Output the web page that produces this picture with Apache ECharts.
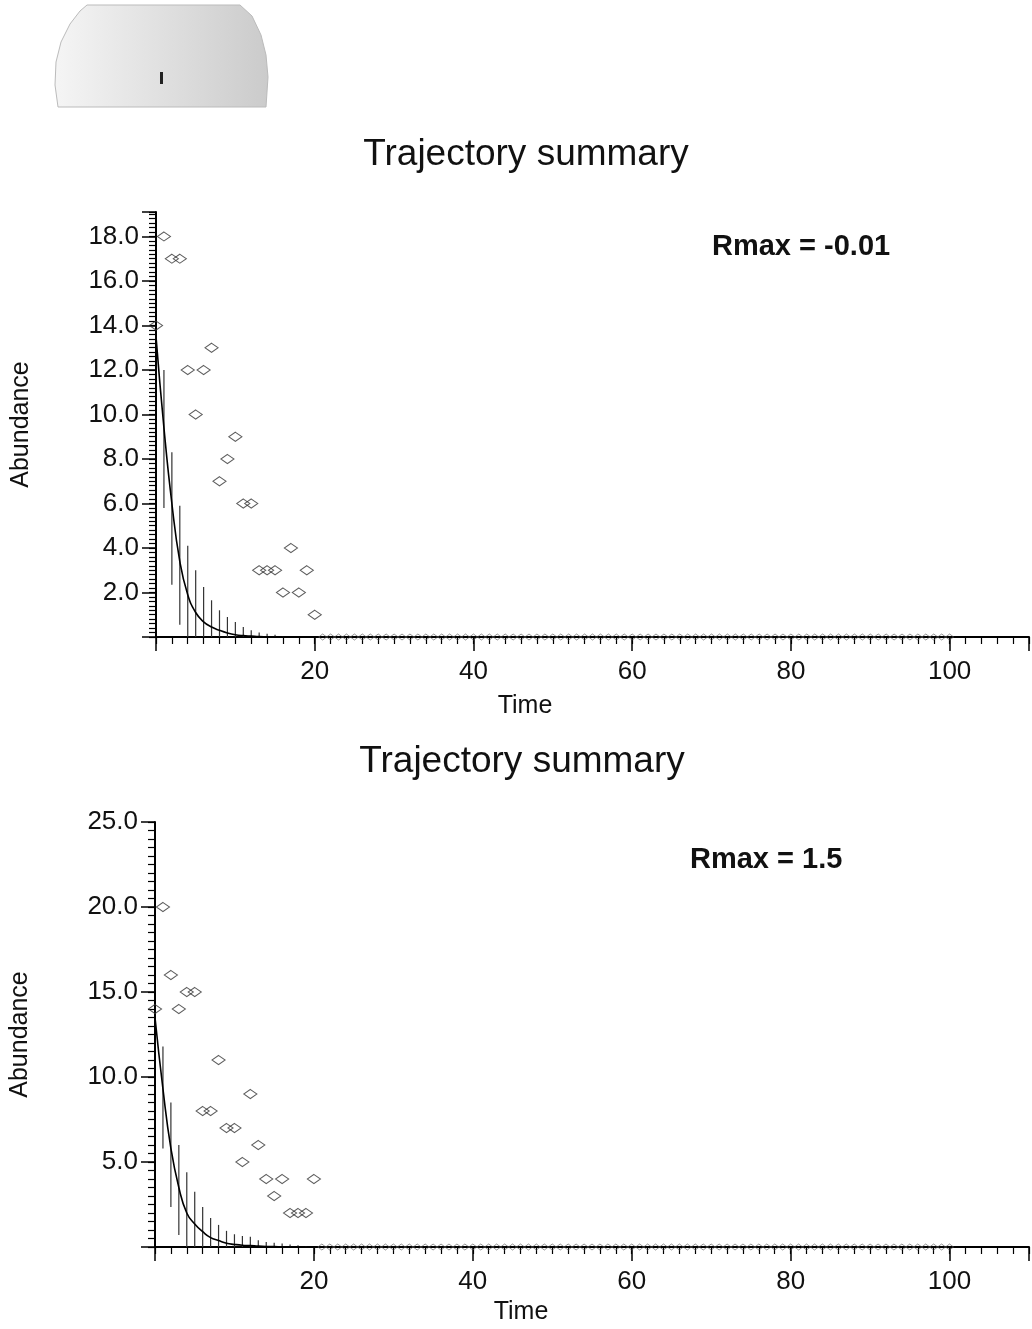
<!DOCTYPE html>
<html>
<head>
<meta charset="utf-8">
<title>Trajectory summary</title>
<script src="https://cdn.jsdelivr.net/npm/echarts@6/dist/echarts.min.js"></script>
<style>
    html, body { margin: 0; padding: 0; background: #fff; }
    #main { width: 1032px; height: 1329px; }
</style>
</head>
<body>
<div id="main"></div>
<script>
    // time steps 0..20 (abundance > 0 somewhere in this range)
    const times = [0, 1, 2, 3, 4, 5, 6, 7, 8, 9, 10, 11, 12, 13, 14, 15, 16, 17, 18, 19, 20];
    // observed series is extinct after t = 20
    const extinctTimes = [21, 22, 23, 24, 25, 26, 27, 28, 29, 30, 31, 32, 33, 34, 35, 36, 37, 38, 39, 40,
        41, 42, 43, 44, 45, 46, 47, 48, 49, 50, 51, 52, 53, 54, 55, 56, 57, 58, 59, 60,
        61, 62, 63, 64, 65, 66, 67, 68, 69, 70, 71, 72, 73, 74, 75, 76, 77, 78, 79, 80,
        81, 82, 83, 84, 85, 86, 87, 88, 89, 90, 91, 92, 93, 94, 95, 96, 97, 98, 99, 100];

    // Rmax = -0.01
    const obsTop = [14, 18, 17, 17, 12, 10, 12, 13, 7, 8, 9, 6, 6, 3, 3, 3, 2, 4, 2, 3, 1];
    const meanTop = [13.5, 9.4, 6.0, 3.4, 1.9, 1.1, 0.68, 0.45, 0.3, 0.18, 0.1, 0.06, 0.04, 0.02, 0.01, 0, 0, 0, 0, 0, 0];
    const hiTop = [13.5, 12.0, 8.3, 5.9, 4.1, 3.0, 2.25, 1.65, 1.2, 0.9, 0.67, 0.45, 0.3, 0.2, 0.15, 0.1, 0.05, 0, 0, 0, 0];
    const loTop = [13.5, 5.8, 2.35, 0.55, 0, 0, 0, 0, 0, 0, 0, 0, 0, 0, 0, 0, 0, 0, 0, 0, 0];

    // Rmax = 1.5
    const obsBot = [14, 20, 16, 14, 15, 15, 8, 8, 11, 7, 7, 5, 9, 6, 4, 3, 4, 2, 2, 2, 4];
    const meanBot = [13.5, 9.3, 5.8, 3.5, 2.0, 1.35, 0.9, 0.55, 0.38, 0.22, 0.15, 0.1, 0.08, 0.05, 0.03, 0.02, 0.01, 0, 0, 0, 0];
    const hiBot = [13.5, 11.8, 8.5, 6.0, 4.4, 3.25, 2.35, 1.7, 1.3, 0.95, 0.75, 0.65, 0.6, 0.4, 0.3, 0.25, 0.2, 0.15, 0.1, 0.05, 0];
    const loBot = [13.5, 5.8, 2.35, 0.7, 0, 0, 0, 0, 0, 0, 0, 0, 0, 0, 0, 0, 0, 0, 0, 0, 0];

    const xTickLabels = [20, 40, 60, 80, 100];
    const yTickLabelsTop = [2, 4, 6, 8, 10, 12, 14, 16, 18];
    const yTickLabelsBot = [5, 10, 15, 20, 25];

    const font = "'Liberation Sans', Arial, sans-serif";

    function pairs(xs, ys) {
        return xs.map((x, i) => [x, ys[i]]);
    }

    function whisker(params, api) {
        const t = api.value(0), lo = api.value(1), hi = api.value(2);
        if (hi - lo <= 0) return null;
        const a = api.coord([t, lo]);
        const b = api.coord([t, hi]);
        return {
            type: 'line',
            shape: { x1: a[0], y1: a[1], x2: b[0], y2: b[1] },
            style: { stroke: '#333', lineWidth: 1.2 }
        };
    }

    function mainX(grid, labels) {
        return {
            gridIndex: grid, type: 'value', min: 0, max: 110, interval: 20, position: 'bottom',
            axisLine: { lineStyle: { color: '#000', width: 2 } },
            axisTick: { length: 14, lineStyle: { color: '#000', width: 1.5 } },
            axisLabel: {
                margin: 22, fontFamily: font, fontSize: 26, color: '#111',
                formatter: v => labels.includes(v) ? String(v) : ''
            },
            splitLine: { show: false }
        };
    }

    function minorX(grid) {
        return {
            gridIndex: grid, type: 'value', min: 0, max: 110, interval: 2, position: 'bottom',
            axisLine: { show: false },
            axisTick: { length: 7, lineStyle: { color: '#000', width: 1.2 } },
            axisLabel: { show: false }, splitLine: { show: false }
        };
    }

    function mainY(grid, max, interval, labels) {
        return {
            gridIndex: grid, type: 'value', min: 0, max: max, interval: interval, position: 'left',
            name: 'Abundance', nameLocation: 'middle', nameGap: 122,
            nameTextStyle: { fontFamily: font, fontSize: 25, color: '#111' },
            axisLine: { lineStyle: { color: '#000', width: 2 } },
            axisTick: { length: 14, lineStyle: { color: '#000', width: 1.5 } },
            axisLabel: {
                margin: 17, fontFamily: font, fontSize: 26, color: '#111',
                formatter: v => labels.includes(v) ? v.toFixed(1) : ''
            },
            splitLine: { show: false }
        };
    }

    function minorY(grid, max, interval) {
        return {
            gridIndex: grid, type: 'value', min: 0, max: max, interval: interval, position: 'left',
            axisLine: { show: false },
            axisTick: { length: 7, lineStyle: { color: '#000', width: 1.2 } },
            axisLabel: { show: false }, splitLine: { show: false }
        };
    }

    function seriesFor(xi, yi, obs, mean, lo, hi) {
        const zeros = extinctTimes.map(t => [t, 0]);
        return [
            {
                type: 'custom', xAxisIndex: xi, yAxisIndex: yi, renderItem: whisker,
                encode: { x: 0, y: [1, 2] }, clip: true,
                data: times.map((t, i) => [t, lo[i], hi[i]])
            },
            {
                type: 'line', xAxisIndex: xi, yAxisIndex: yi, smooth: true, showSymbol: false,
                lineStyle: { color: '#000', width: 1.6 }, data: pairs(times, mean)
            },
            {
                type: 'scatter', xAxisIndex: xi, yAxisIndex: yi, clip: true,
                symbol: 'diamond', symbolSize: [13, 9],
                itemStyle: { color: 'rgba(0,0,0,0)', borderColor: '#333', borderWidth: 1.1 },
                data: pairs(times, obs)
            },
            {
                // extinct years sit on the axis; only small marks show
                type: 'scatter', xAxisIndex: xi, yAxisIndex: yi, clip: true,
                symbol: 'diamond', symbolSize: [8, 6],
                itemStyle: { color: 'rgba(0,0,0,0)', borderColor: '#555', borderWidth: 0.8 },
                data: zeros
            }
        ];
    }

    function label(text, x, y, css, align) {
        return {
            type: 'text', x: x, y: y,
            style: { text: text, font: css, fill: '#111', textAlign: align || 'center', textVerticalAlign: 'middle' }
        };
    }

    const chart = echarts.init(document.getElementById('main'));

    const option = {
        backgroundColor: '#fff',
        animation: false,
        grid: [
            { left: 156, top: 212, width: 880, height: 425 },
            { left: 153, top: 822, width: 880, height: 425 }
        ],
        xAxis: [mainX(0, xTickLabels), minorX(0), mainX(1, xTickLabels), minorX(1)],
        yAxis: [
            mainY(0, 19.1, 2, yTickLabelsTop), minorY(0, 19.1, 0.2),
            mainY(1, 25, 5, yTickLabelsBot), minorY(1, 25, 0.5)
        ],
        series: [].concat(
            seriesFor(0, 0, obsTop, meanTop, loTop, hiTop),
            seriesFor(2, 2, obsBot, meanBot, loBot, hiBot)
        ),
        graphic: [
            {
                // halftone logo in the upper left
                type: 'polygon',
                shape: {
                    points: [[87, 5], [240, 5], [252, 16], [261, 35], [266, 55], [268, 77], [266, 107],
                        [58, 107], [55, 85], [56, 62], [61, 42], [70, 24], [80, 11]]
                },
                style: {
                    fill: {
                        type: 'linear', x: 0, y: 0, x2: 1, y2: 0,
                        colorStops: [
                            { offset: 0, color: '#f5f5f5' },
                            { offset: 0.5, color: '#e0e0e0' },
                            { offset: 1, color: '#cbcbcb' }
                        ]
                    },
                    stroke: '#bbb', lineWidth: 1
                }
            },
            { type: 'rect', shape: { x: 160, y: 72, width: 3, height: 12 }, style: { fill: '#222' } },
            label('Trajectory summary', 526, 155, '37px ' + font),
            label('Trajectory summary', 522, 762, '37px ' + font),
            label('Rmax = -0.01', 712, 247, 'bold 29px ' + font, 'left'),
            label('Rmax = 1.5', 690, 860, 'bold 29px ' + font, 'left'),
            label('Time', 525, 706, '25px ' + font),
            label('Time', 521, 1312, '25px ' + font)
        ]
    };

    chart.setOption(option);
</script>
</body>
</html>
